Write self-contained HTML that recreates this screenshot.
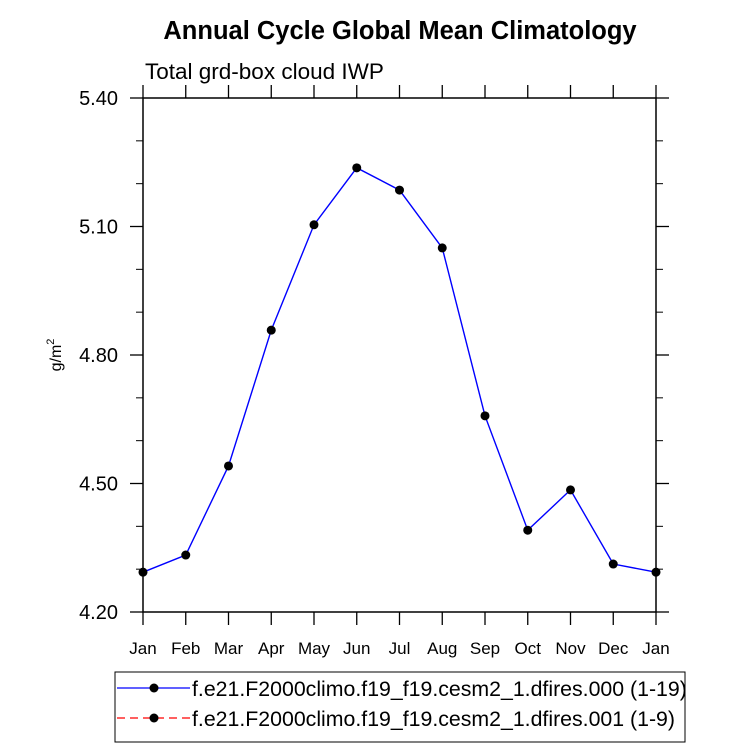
<!DOCTYPE html>
<html><head><meta charset="utf-8"><style>
html,body{margin:0;padding:0;background:#fff;width:732px;height:745px;overflow:hidden}
svg{font-family:"Liberation Sans",sans-serif}
</style></head><body>
<svg id="chart" width="732" height="745">
<text x="400" y="39" text-anchor="middle" font-size="25.5" font-weight="bold">Annual Cycle Global Mean Climatology</text>
<text x="145" y="79" font-size="22.5">Total grd-box cloud IWP</text>
<text transform="translate(61,355) rotate(-90)" text-anchor="middle" font-size="16">g/m<tspan dy="-7" font-size="11">2</tspan></text>
<rect x="143" y="98" width="513" height="514" fill="none" stroke="#000" stroke-width="1.5"/>
<g id="axes"></g>
<g id="series"></g>
<g>
<rect x="115" y="672" width="570" height="70" fill="none" stroke="#000" stroke-width="1"/>
<line x1="117" y1="688" x2="190" y2="688" stroke="#0000ff" stroke-width="1.3"/>
<circle cx="154" cy="688" r="4.5" fill="#000"/>
<text x="192" y="696" font-size="21.3">f.e21.F2000climo.f19_f19.cesm2_1.dfires.000 (1-19)</text>
<line x1="117" y1="718" x2="190" y2="718" stroke="#ff0000" stroke-width="1.3" stroke-dasharray="8,5"/>
<circle cx="154" cy="718" r="4.5" fill="#000"/>
<text x="192" y="726" font-size="21.3">f.e21.F2000climo.f19_f19.cesm2_1.dfires.001 (1-9)</text>
</g>
</svg>
<script>
const months = ["Jan","Feb","Mar","Apr","May","Jun","Jul","Aug","Sep","Oct","Nov","Dec","Jan"];
const series000 = [4.293,4.333,4.541,4.858,5.104,5.237,5.185,5.050,4.658,4.391,4.485,4.312,4.293];
const yTicks = [4.20,4.50,4.80,5.10,5.40];
const yTickLabels = ["4.20","4.50","4.80","5.10","5.40"];
const yMinor = [4.3,4.4,4.6,4.7,4.9,5.0,5.2,5.3];
const NS="http://www.w3.org/2000/svg";
const X0=143,X1=656,Y0=612,Y1=98,YMIN=4.2,YMAX=5.4,XR=656;
const xs=i=>X0+(X1-X0)*i/(months.length-1);
const ys=v=>Y0-(v-YMIN)/(YMAX-YMIN)*(Y0-Y1);
function mk(tag,attrs,parent){const e=document.createElementNS(NS,tag);for(const k in attrs)e.setAttribute(k,attrs[k]);parent.appendChild(e);return e;}
const ax=document.getElementById('axes');
months.forEach((m,i)=>{
 const x=xs(i);
 const t1=mk('line',{x1:x,x2:x,y1:Y0,y2:Y0+13,stroke:'#000','stroke-width':1.3},ax);
 
 
 const t2=mk('line',{x1:x,x2:x,y1:Y1,y2:Y1-13,stroke:'#000','stroke-width':1.3},ax);
 
 
 const tx=mk('text',{x:x,y:Y0+42,'text-anchor':'middle','font-size':17},ax);
 tx.textContent=m;
 
 
});
yTicks.forEach((v,i)=>{
 const y=ys(v);
 const t=mk('line',{x1:X0-13,x2:X0,y1:y,y2:y,stroke:'#000','stroke-width':1.3},ax);
 
 
 const r=mk('line',{x1:XR,x2:XR+13,y1:y,y2:y,stroke:'#000','stroke-width':1.3},ax);
 
 
 const tx=mk('text',{x:X0-25,y:y+7,'text-anchor':'end','font-size':20},ax);
 tx.textContent=yTickLabels[i];
 
 
});
yMinor.forEach(v=>{
 const y=ys(v);
 const t=mk('line',{x1:X0-7,x2:X0,y1:y,y2:y,stroke:'#000','stroke-width':1},ax);
 
 
 const r=mk('line',{x1:XR,x2:XR+7,y1:y,y2:y,stroke:'#000','stroke-width':1},ax);
 
 
});
const sg=document.getElementById('series');
const pl=mk('polyline',{points:series000.map((v,i)=>xs(i)+','+ys(v)).join(' '),fill:'none',stroke:'#0000ff','stroke-width':1.4},sg);


series000.forEach((v,i)=>{
 const c=mk('circle',{cx:xs(i),cy:ys(v),r:4.5,fill:'#000'},sg);
 
 
});
</script>
</body></html>
